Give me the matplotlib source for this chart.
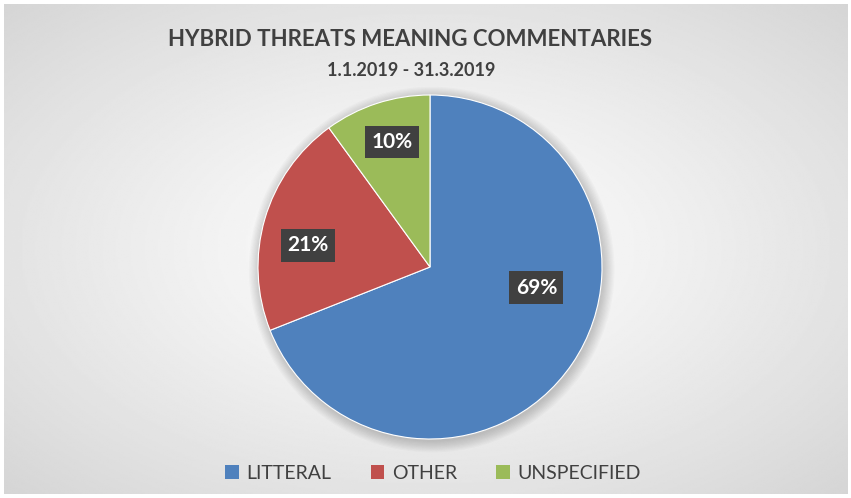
import numpy as np
import matplotlib.pyplot as plt
from matplotlib.patches import Patch, Circle

plt.rcParams['font.family'] = ['Lato', 'DejaVu Sans']

categories = ['LITTERAL', 'OTHER', 'UNSPECIFIED']
shares = [69, 21, 10]
colors = ['#4F81BD', '#C0504D', '#9BBB59']
title = 'HYBRID THREATS MEANING COMMENTARIES'
subtitle = '1.1.2019 - 31.3.2019'

W, H = 851, 498
fig = plt.figure(figsize=(W / 100, H / 100), dpi=100)
fig.patch.set_facecolor('white')

# radial grey background like the office chart area
bg = fig.add_axes([4 / W, 4 / H, 1 - 8 / W, 1 - 8 / H])
yy, xx = np.mgrid[-1:1:300j, -1:1:500j]
d = np.sqrt(xx ** 2 + yy ** 2) / np.sqrt(2)
bg.imshow(0.995 - 0.16 * d ** 1.2, cmap='gray', vmin=0, vmax=1,
          aspect='auto', extent=[0, 1, 0, 1], interpolation='bilinear')
bg.axis('off')

# pie: center (430, 267) px from top-left, radius 172 px
cx, cy, r = 430, H - 267, 172
ax = fig.add_axes([(cx - r - 20) / W, (cy - r - 20) / H, (2 * r + 40) / W, (2 * r + 40) / H])

wedges, _ = ax.pie(shares, colors=colors, startangle=90, counterclock=False, radius=1,
                   wedgeprops=dict(edgecolor='white', linewidth=0.8))
for w in wedges:
    w.set_zorder(2)

lim = (r + 20) / r
ax.set_xlim(-lim, lim)
ax.set_ylim(-lim, lim)
ax.set_aspect('equal')
ax.axis('off')

# soft shadow
for i in range(10):
    ax.add_patch(Circle((0.01, -0.015), 1 + 0.007 * i, color='black', alpha=0.018, lw=0, zorder=0))

# label placement (angle deg, radius fraction), like excel's best fit
label_pos = [(-11, 0.63), (170, 0.72), (107, 0.76)]
for s, (a, rf) in zip(shares, label_pos):
    t = np.deg2rad(a)
    ax.text(rf * np.cos(t), rf * np.sin(t), f'{s}%', ha='center', va='center',
            fontsize=15, fontweight='bold', color='white', zorder=5,
            bbox=dict(boxstyle='square,pad=0.3', fc='#404040', ec='none'))

fig.text(410 / W, 1 - 40 / H, title, ha='center', va='center', fontsize=16,
         fontweight='bold', color='#404040')
fig.text(411 / W, 1 - 71 / H, subtitle, ha='center', va='center', fontsize=13,
         fontweight='bold', color='#404040')

handles = [Patch(facecolor=c, edgecolor='none') for c in colors]
fig.legend(handles, categories, loc='center', bbox_to_anchor=(433 / W, 1 - 473 / H), ncol=3,
           frameon=False, fontsize=14, labelcolor='#404040', handlelength=0.7, handleheight=0.7,
           handletextpad=0.4, columnspacing=2.0)

fig.savefig('out.png', dpi=100)
